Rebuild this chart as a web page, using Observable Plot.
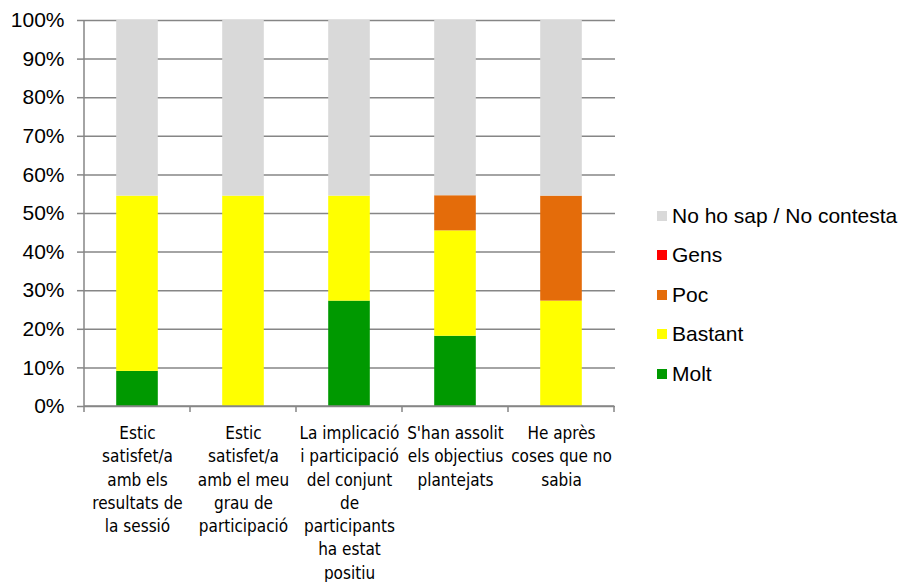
<!DOCTYPE html>
<html>
<head>
<meta charset="utf-8">
<script src="https://cdn.jsdelivr.net/npm/d3@7"></script>
<script src="https://cdn.jsdelivr.net/npm/@observablehq/plot@0.6"></script>
<style>
  body { margin: 0; background: #fff; }
  #wrap { position: relative; width: 903px; height: 582px; overflow: hidden; }
  #legend { position: absolute; left: 657px; top: 0; font-family: "Liberation Sans", Arial, sans-serif; font-size: 21px; color: #000; }
  .item { position: absolute; left: 0; white-space: nowrap; display: flex; align-items: center; height: 24px; }
  .sw { width: 10px; height: 10px; margin-right: 5px; flex: none; }
</style>
</head>
<body>
<div id="wrap"><div id="legend"></div></div>
<script>
const categories = [
  "Estic\nsatisfet/a\namb els\nresultats de\nla sessió",
  "Estic\nsatisfet/a\namb el meu\ngrau de\nparticipació",
  "La implicació\ni participació\ndel conjunt\nde\nparticipants\nha estat\npositiu",
  "S'han assolit\nels objectius\nplantejats",
  "He après\ncoses que no\nsabia"
];
const seriesNames = ["Molt", "Bastant", "Poc", "Gens", "No ho sap / No contesta"];
const seriesColors = ["#009900", "#FFFF00", "#E46C0A", "#FF0000", "#D9D9D9"];
const molt    = [9.1, 0, 27.3, 18.2, 0];
const bastant = [45.4, 54.5, 27.2, 27.3, 27.3];
const poc     = [0, 0, 0, 9.1, 27.2];
const gens    = [0, 0, 0, 0, 0];
const noSap   = [45.5, 45.5, 45.5, 45.4, 45.5];
const yTicks = [0, 10, 20, 30, 40, 50, 60, 70, 80, 90, 100];

const seriesValues = [molt, bastant, poc, gens, noSap];
const rows = [];
seriesNames.forEach((s, si) => {
  categories.forEach((c, ci) => rows.push({cat: c, series: s, value: seriesValues[si][ci] / 100}));
});

const W = 903, H = 582, ML = 83, MR = 288, MT = 20, MB = 176;
const axisColor = "#868686";

const boundaryMark = (index, scales, values, dims) => {
  const g = d3.create("svg:g");
  const x = scales.x;
  const bw = x.bandwidth ? x.bandwidth() : (dims.width - dims.marginLeft - dims.marginRight) / categories.length;
  const y0 = scales.y(0), y1 = scales.y(1);
  const left = x(categories[0]);
  g.append("line").attr("x1", left).attr("x2", left).attr("y1", y1).attr("y2", y0)
    .attr("stroke", axisColor).attr("stroke-width", 1.5);
  const right = x(categories[categories.length - 1]) + bw;
  g.append("line").attr("x1", left).attr("x2", right).attr("y1", y0).attr("y2", y0)
    .attr("stroke", axisColor).attr("stroke-width", 1.5);
  const bounds = categories.map(c => x(c)).concat([right]);
  bounds.forEach(b => g.append("line").attr("x1", b).attr("x2", b).attr("y1", y0).attr("y2", y0 + 6)
    .attr("stroke", axisColor).attr("stroke-width", 1.5));
  return g.node();
};

const chart = Plot.plot({
  width: W, height: H,
  marginLeft: ML, marginRight: MR, marginTop: MT, marginBottom: MB,
  style: { background: "transparent", overflow: "visible" },
  x: { domain: categories, padding: 0, label: null },
  y: { domain: [0, 1], label: null },
  color: { domain: seriesNames, range: seriesColors },
  marks: [
    Plot.gridY(yTicks.map(d => d / 100), { stroke: axisColor, strokeOpacity: 1, strokeWidth: 1.5 }),
    Plot.barY(rows, { x: "cat", y: "value", fill: "series", insetLeft: 32.2, insetRight: 32.2 }),
    boundaryMark,
    Plot.axisY(yTicks.map(d => d / 100), {
      tickFormat: d3.format(".0%"), tickSize: 6, tickPadding: 13, stroke: axisColor, strokeWidth: 1.5,
      fontSize: 21, fontFamily: "Liberation Sans, Arial, sans-serif", fill: "#000", label: null
    }),
    Plot.axisX({
      tickSize: 0, tickPadding: 16, fontSize: 17, lineHeight: 1.37,
      fontFamily: "DejaVu Sans Condensed, DejaVu Sans, sans-serif", fill: "#000", label: null,
      textOverflow: null, lineWidth: Infinity
    })
  ]
});
document.getElementById("wrap").prepend(chart);

const legend = document.getElementById("legend");
const legendOrder = ["No ho sap / No contesta", "Gens", "Poc", "Bastant", "Molt"];
const legendTops = [204, 243, 283, 322, 362];
legendOrder.forEach((name, i) => {
  const it = document.createElement("div");
  it.className = "item";
  it.style.top = legendTops[i] + "px";
  const sw = document.createElement("span");
  sw.className = "sw";
  sw.style.background = seriesColors[seriesNames.indexOf(name)];
  const tx = document.createElement("span");
  tx.textContent = name;
  it.appendChild(sw); it.appendChild(tx);
  legend.appendChild(it);
});
</script>
</body>
</html>
